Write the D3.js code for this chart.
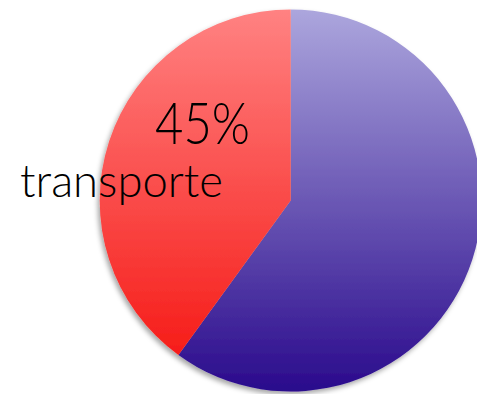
<!DOCTYPE html>
<html>
<head>
<meta charset="utf-8">
<script src="https://cdn.jsdelivr.net/npm/d3@7"></script>
<style>
  body { margin: 0; background: #fff; }
  svg { display: block; }
</style>
</head>
<body>
<div id="chart"></div>
<script>
// data
const categories = ["otros", "transporte"];
const values = [60, 40];
const pctLabels = ["", "45%"];
const topColors = ["#aca6dd", "#ff8282"];
const bottomColors = ["#2a0a8c", "#f5120e"];

const FRAME_WIDTH = 477;
const FRAME_HEIGHT = 394;
const CX = 290.7, CY = 200.5, R = 191;

const svg = d3.select("#chart")
  .append("svg")
    .attr("width", FRAME_WIDTH)
    .attr("height", FRAME_HEIGHT);

const defs = svg.append("defs");

// vertical gradient over the whole pie, one per slice (coords in the slice group's space)
categories.forEach((c, i) => {
  const g = defs.append("linearGradient")
      .attr("id", "grad" + i)
      .attr("gradientUnits", "userSpaceOnUse")
      .attr("x1", 0).attr("x2", 0)
      .attr("y1", -R).attr("y2", R);
  g.append("stop").attr("offset", "0%").attr("stop-color", topColors[i]);
  g.append("stop").attr("offset", "100%").attr("stop-color", bottomColors[i]);
});

const shadow = defs.append("filter")
    .attr("id", "shadow")
    .attr("x", "-10%").attr("y", "-10%")
    .attr("width", "120%").attr("height", "120%");
shadow.append("feDropShadow")
    .attr("dx", -2).attr("dy", 3)
    .attr("stdDeviation", 2.5)
    .attr("flood-color", "#000")
    .attr("flood-opacity", 0.35);

const pie = d3.pie().sort(null).value(d => d);
const arc = d3.arc().innerRadius(0).outerRadius(R);

const slices = svg.append("g")
    .attr("transform", "translate(" + CX + "," + CY + ")")
    .attr("filter", "url(#shadow)");

slices.selectAll("path")
  .data(pie(values))
  .enter()
  .append("path")
    .attr("d", arc)
    .attr("fill", (d, i) => "url(#grad" + i + ")");

// labels
svg.append("text")
    .attr("x", 250)
    .attr("y", 144)
    .attr("text-anchor", "end")
    .attr("font-family", "Lato, 'DejaVu Sans', sans-serif")
    .attr("font-weight", 300)
    .attr("font-size", 58)
    .attr("textLength", 95)
    .attr("lengthAdjust", "spacingAndGlyphs")
    .attr("fill", "#000")
    .text(pctLabels[1]);

svg.append("text")
    .attr("x", 20)
    .attr("y", 197)
    .attr("font-family", "Lato, 'DejaVu Sans', sans-serif")
    .attr("font-weight", 300)
    .attr("font-size", 45)
    .attr("textLength", 203)
    .attr("lengthAdjust", "spacingAndGlyphs")
    .attr("fill", "#000")
    .text(categories[1]);
</script>
</body>
</html>
